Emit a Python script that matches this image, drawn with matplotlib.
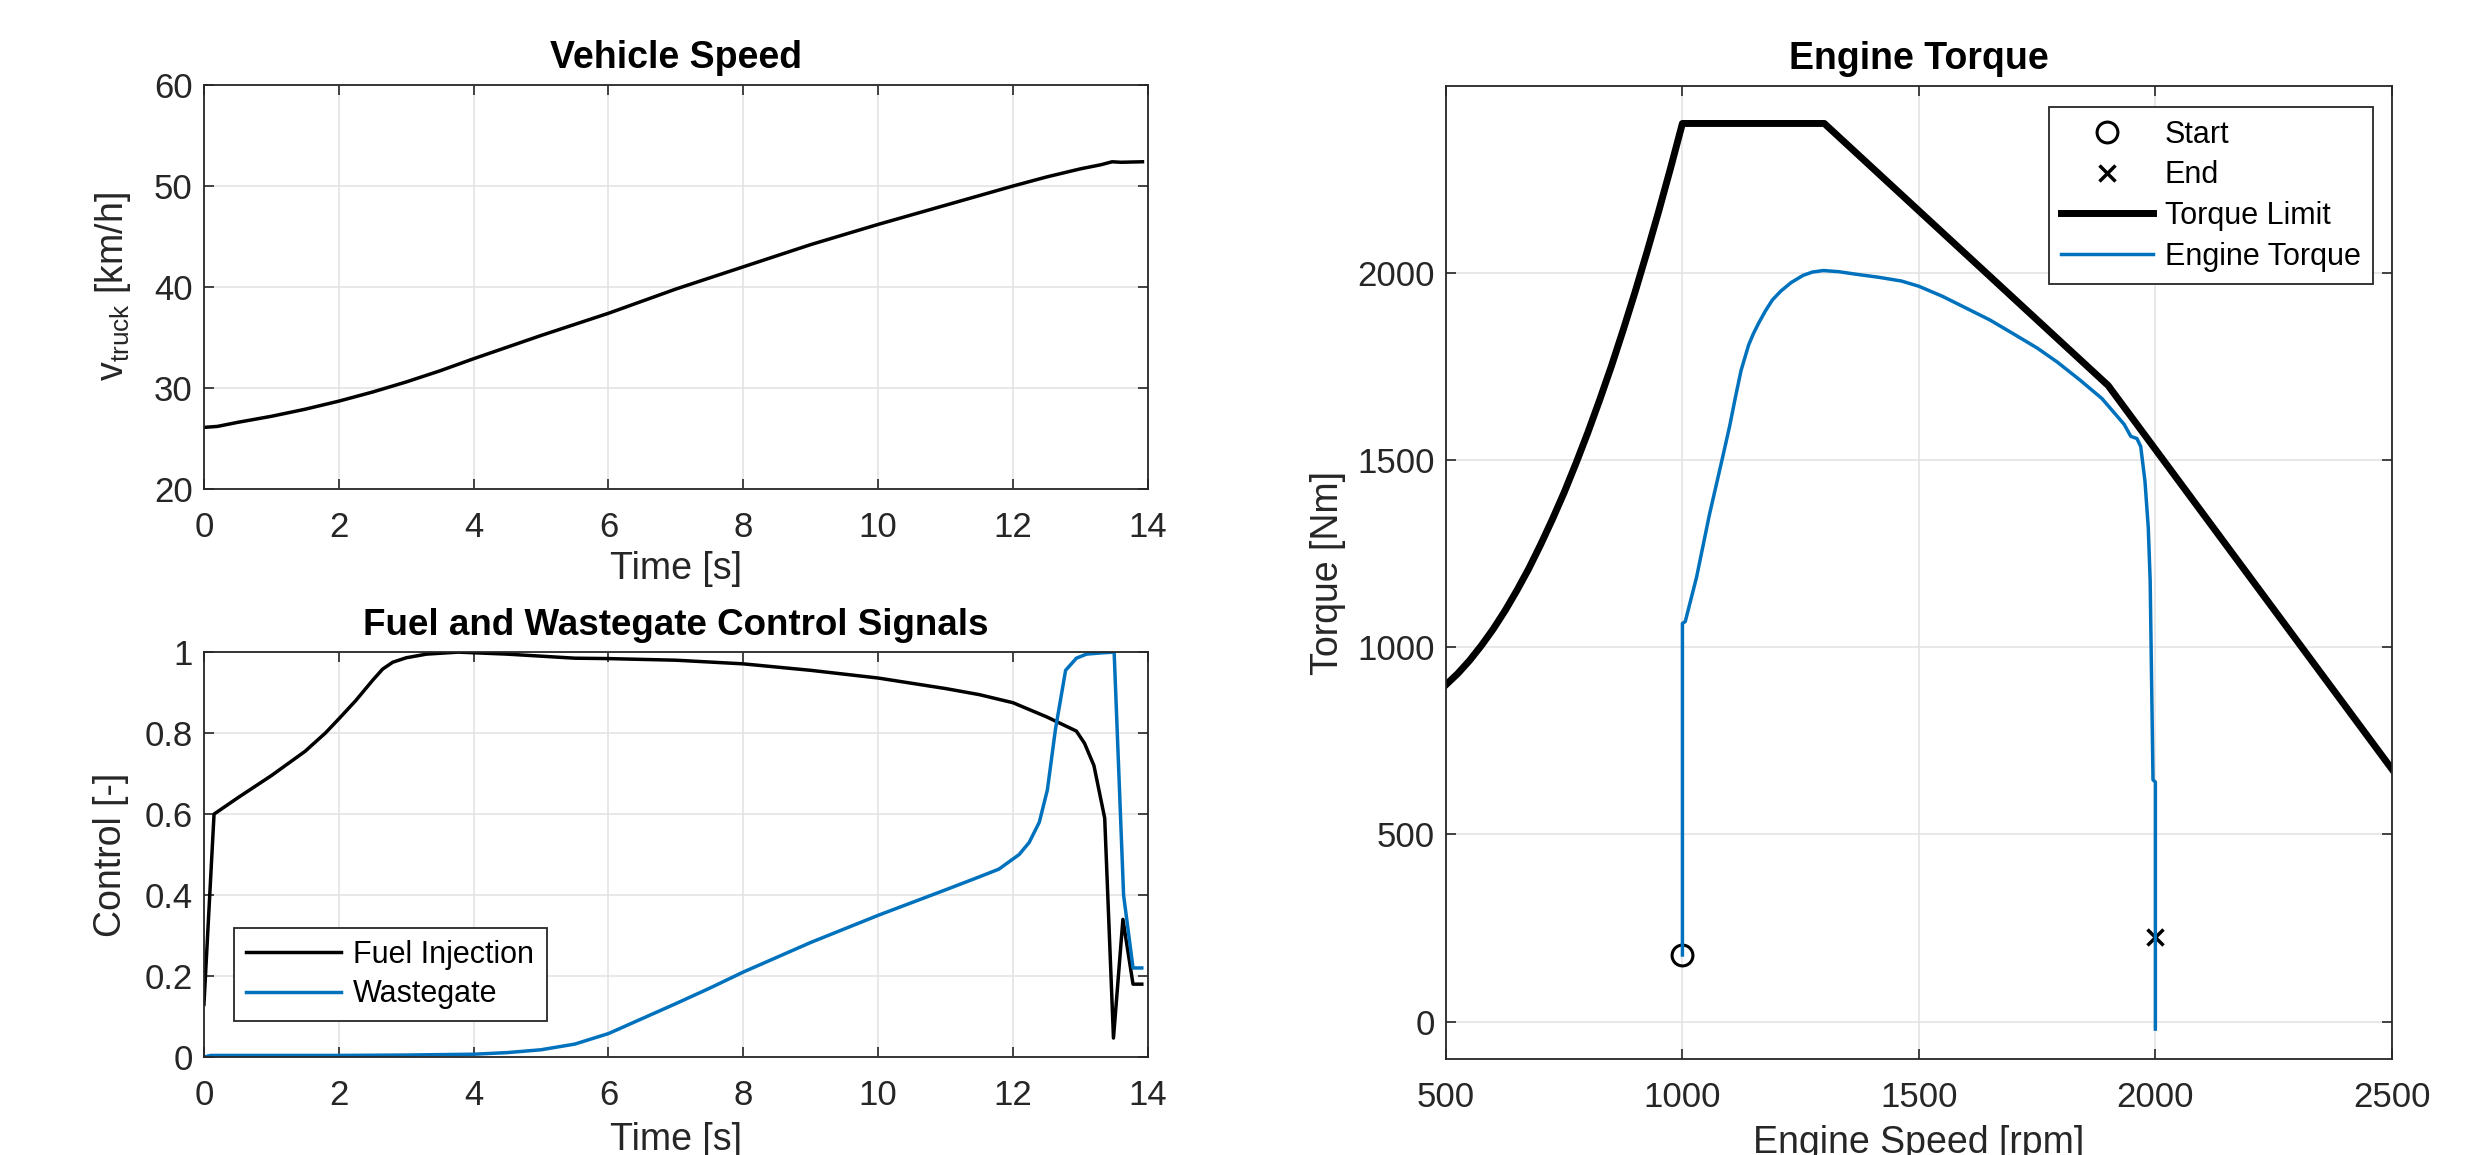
import numpy as np
import matplotlib
matplotlib.use('Agg')
import matplotlib.pyplot as plt

plt.rcParams['font.family'] = ['Liberation Sans', 'DejaVu Sans']
plt.rcParams['mathtext.default'] = 'regular'

# vehicle speed
t_speed = [0, 0.2, 0.5, 1.0, 1.5, 2.0, 2.5, 3.0, 3.5, 4.0, 5.0, 6.0, 7.0, 8.0,
           9.0, 10.0, 11.0, 12.0, 12.5, 13.0, 13.3, 13.47, 13.6, 13.92]
v_speed = [26.1, 26.2, 26.6, 27.2, 27.9, 28.7, 29.6, 30.6, 31.7, 32.9, 35.2, 37.4,
           39.8, 42.0, 44.2, 46.2, 48.1, 50.0, 50.9, 51.7, 52.1, 52.4, 52.35, 52.4]

# control signals
t_fuel = [0, 0.15, 0.5, 1.0, 1.5, 1.8, 2.0, 2.25, 2.5, 2.65, 2.8, 3.0, 3.3, 3.77,
          4.5, 5.0, 5.5, 6.0, 7.0, 8.0, 9.0, 10.0, 11.0, 11.5, 12.0, 12.5, 12.94,
          13.06, 13.2, 13.36, 13.49, 13.63, 13.78, 13.91]
u_fuel = [0.13, 0.60, 0.64, 0.695, 0.755, 0.80, 0.835, 0.88, 0.93, 0.958, 0.975,
          0.986, 0.995, 1.0, 0.995, 0.99, 0.985, 0.984, 0.98, 0.971, 0.955, 0.936,
          0.91, 0.895, 0.875, 0.84, 0.805, 0.775, 0.72, 0.59, 0.047, 0.34, 0.18, 0.18]

t_wg = [0, 0.1, 1.0, 2.0, 3.0, 4.0, 4.5, 5.0, 5.5, 6.0, 6.5, 7.0, 7.5, 8.0, 9.0,
        10.0, 11.0, 11.5, 11.79, 12.09, 12.24, 12.39, 12.51, 12.63, 12.78, 12.94,
        13.09, 13.3, 13.5, 13.64, 13.78, 13.91]
u_wg = [0.0, 0.004, 0.004, 0.004, 0.005, 0.007, 0.011, 0.018, 0.032, 0.058, 0.095,
        0.132, 0.17, 0.21, 0.283, 0.35, 0.413, 0.445, 0.464, 0.50, 0.53, 0.58, 0.66,
        0.81, 0.955, 0.985, 0.995, 0.998, 1.0, 0.40, 0.22, 0.22]

# engine torque map
n_lim = [500, 525, 550, 575, 600, 625, 650, 675, 700, 725, 750, 775, 800, 825, 850,
         875, 900, 925, 950, 975, 1000, 1300, 1900, 2500]
T_lim = [900, 930, 965, 1005, 1049, 1098, 1152, 1210, 1274, 1342, 1414, 1492, 1574,
         1661, 1752, 1849, 1950, 2056, 2166, 2281, 2400, 2400, 1700, 675]

n_eng = [1000, 1000, 1006, 1030, 1057, 1085, 1100, 1112, 1124, 1140, 1150, 1161,
         1175, 1190, 1208, 1230, 1255, 1275, 1298, 1330, 1368, 1415, 1463, 1500,
         1550, 1604, 1650, 1697, 1750, 1792, 1840, 1887, 1934, 1948, 1961, 1969,
         1978, 1985, 1989, 1995, 2000, 2000]
T_eng = [178, 1064, 1069, 1188, 1354, 1508, 1592, 1668, 1740, 1808, 1838, 1866,
         1898, 1928, 1952, 1975, 1994, 2003, 2007, 2004, 1997, 1989, 1979, 1965,
         1938, 1904, 1875, 1840, 1800, 1763, 1715, 1665, 1596, 1564, 1558, 1537,
         1444, 1320, 1178, 646, 640, -20]

n_start, T_start = 1000, 178
n_end, T_end = 2000, 226

blue = '#0072BD'
dark = '#262626'

fig = plt.figure(figsize=(24.84, 11.55), dpi=100)
ax1 = fig.add_axes([0.0821, 0.5766, 0.3800, 0.3498])
ax2 = fig.add_axes([0.0821, 0.0848, 0.3800, 0.3506])
ax3 = fig.add_axes([0.5821, 0.0831, 0.3808, 0.8424])


def style(ax):
    ax.grid(True, color='#e2e2e2', linewidth=1.1)
    ax.set_axisbelow(True)
    ax.tick_params(direction='in', top=True, right=True, length=7, width=1.2,
                   colors=dark, labelsize=25, labelcolor=dark)
    ax.tick_params(axis='x', pad=16)
    ax.tick_params(axis='y', pad=8)
    for s in ax.spines.values():
        s.set_color(dark)
        s.set_linewidth(1.3)


ax1.plot(t_speed, v_speed, color='k', lw=2.5)
ax1.set_xlim(0, 14)
ax1.set_ylim(20, 60)
ax1.set_xticks(np.arange(0, 15, 2))
ax1.set_yticks(np.arange(20, 61, 10))
ax1.set_xlabel('Time [s]', fontsize=27, labelpad=5, color=dark)
ax1.set_ylabel('$v_{truck}$ [km/h]', fontsize=27, labelpad=15, color=dark)
ax1.set_title('Vehicle Speed', fontsize=27, fontweight='bold', pad=12)
style(ax1)

ax2.plot(t_fuel, u_fuel, color='k', lw=2.5, label='Fuel Injection')
ax2.plot(t_wg, u_wg, color=blue, lw=2.5, label='Wastegate')
ax2.set_xlim(0, 14)
ax2.set_ylim(0, 1)
ax2.set_xticks(np.arange(0, 15, 2))
ax2.set_yticks([0, 0.2, 0.4, 0.6, 0.8, 1])
ax2.set_yticklabels(['0', '0.2', '0.4', '0.6', '0.8', '1'])
ax2.set_xlabel('Time [s]', fontsize=27, labelpad=7, color=dark)
ax2.set_ylabel('Control [-]', fontsize=27, labelpad=11, color=dark)
ax2.set_title('Fuel and Wastegate Control Signals', fontsize=26.5, fontweight='bold', pad=12)
style(ax2)
leg = ax2.legend(loc='lower left', bbox_to_anchor=(0.032, 0.088), borderaxespad=0,
                 fontsize=22, fancybox=False, framealpha=1, edgecolor=dark,
                 handlelength=3.1, handletextpad=0.4, labelspacing=0.3)
leg.get_frame().set_linewidth(1.3)

ax3.plot(n_start, T_start, 'o', mfc='none', mec='k', ms=15, mew=2.2, ls='none', label='Start')
ax3.plot(n_end, T_end, 'x', color='k', ms=11, mew=2.5, ls='none', label='End')
ax3.plot(n_lim, T_lim, color='k', lw=5, label='Torque Limit')
ax3.plot(n_eng, T_eng, color=blue, lw=2.5, label='Engine Torque')
ax3.set_xlim(500, 2500)
ax3.set_ylim(-100, 2500)
ax3.set_xticks(np.arange(500, 2501, 500))
ax3.set_yticks(np.arange(0, 2001, 500))
ax3.set_xlabel('Engine Speed [rpm]', fontsize=27, labelpad=8, color=dark)
ax3.set_ylabel('Torque [Nm]', fontsize=27, labelpad=8, color=dark)
ax3.set_title('Engine Torque', fontsize=27, fontweight='bold', pad=12)
style(ax3)
leg3 = ax3.legend(loc='upper right', bbox_to_anchor=(0.98, 0.978), borderaxespad=0,
                  fontsize=22, fancybox=False, framealpha=1, edgecolor=dark,
                  handlelength=3.0, handletextpad=0.4, labelspacing=0.35)
leg3.get_frame().set_linewidth(1.3)

fig.savefig('out.png', dpi=100)
